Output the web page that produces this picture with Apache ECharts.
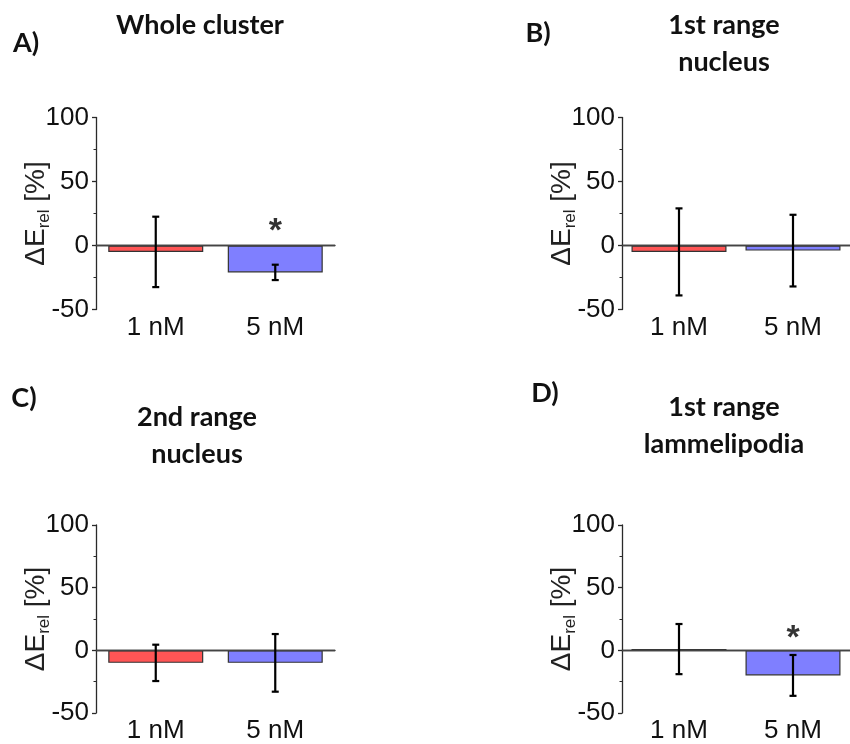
<!DOCTYPE html>
<html>
<head>
<meta charset="utf-8">
<script src="https://cdn.jsdelivr.net/npm/echarts@6/dist/echarts.min.js"></script>
<style>
  html, body { margin: 0; padding: 0; background: #fff; }
  #chart { width: 850px; height: 744px; }
</style>
</head>
<body>
<div id="chart"></div>
<script>
// Concentrations on the x axis
const categories = ['1 nM', '5 nM'];
const yTicks = [-50, 0, 50, 100];

// Panel A: whole cluster
const meanA = [-5, -21];
const errA = [27.5, 6];
const starA = ['-', 16];
// Panel B: 1st range nucleus
const meanB = [-5, -4];
const errB = [34, 28];
const starB = ['-', '-'];
// Panel C: 2nd range nucleus
const meanC = [-10, -10];
const errC = [14.5, 23];
const starC = ['-', '-'];
// Panel D: 1st range lammelipodia
const meanD = [1, -20];
const errD = [20, 16.3];
const starD = ['-', 15];

const panels = [
  { letter: 'A)', title: 'Whole cluster', mean: meanA, err: errA, star: starA },
  { letter: 'B)', title: '1st range\nnucleus', mean: meanB, err: errB, star: starB },
  { letter: 'C)', title: '2nd range\nnucleus', mean: meanC, err: errC, star: starC },
  { letter: 'D)', title: '1st range\nlammelipodia', mean: meanD, err: errD, star: starD }
];

const barColors = ['#ff5555', '#7f7fff'];
const axisColor = '#2a2a2a';
const tickFont = 'Liberation Sans, Arial, sans-serif';
const titleFont = 'Lato, Open Sans, sans-serif';

// Plot boxes for the four panels
const grids = [
  { left: 96, top: 117.5, width: 239, height: 192 },
  { left: 622, top: 117.5, width: 239, height: 192 },
  { left: 96, top: 525, width: 239, height: 192.5 },
  { left: 622, top: 525, width: 239, height: 192.5 }
];

const xAxes = [], yAxes = [], series = [];
panels.forEach((p, i) => {
  xAxes.push({
    type: 'category', gridIndex: i, data: categories,
    axisLine: { lineStyle: { color: axisColor, width: 1.3 } },
    axisTick: { alignWithLabel: true, length: 4, lineStyle: { color: axisColor, width: 1.3 } },
    axisLabel: { color: '#111', fontFamily: tickFont, fontSize: 26, margin: 5 }
  });
  yAxes.push({
    type: 'value', gridIndex: i, min: yTicks[0], max: yTicks[yTicks.length - 1], interval: 50,
    axisLine: { show: true, lineStyle: { color: axisColor, width: 1.3 } },
    axisTick: { show: true, length: 4, lineStyle: { color: axisColor, width: 1.3 } },
    minorTick: { show: true, splitNumber: 2, length: 2.5, lineStyle: { color: axisColor, width: 1 } },
    splitLine: { show: false },
    axisLabel: { color: '#111', fontFamily: tickFont, fontSize: 26, margin: 7 },
    name: '{d|ΔE}{s|rel}{d| [%]}',
    nameLocation: 'middle',
    nameGap: 43,
    nameMoveOverlap: false,
    nameTextStyle: {
      rich: {
        d: { fontFamily: tickFont, fontSize: 28, color: '#222', lineHeight: 34, verticalAlign: 'middle' },
        s: { fontFamily: tickFont, fontSize: 17, color: '#222', lineHeight: 34, verticalAlign: 'bottom', padding: [16, 0, 0, 0] }
      }
    }
  });
  series.push({
    type: 'bar', xAxisIndex: i, yAxisIndex: i, barWidth: 95,
    data: p.mean.map((v, k) => ({ value: v, itemStyle: { color: barColors[k] } })),
    itemStyle: { borderColor: '#333', borderWidth: 1.2 },
    silent: true,
    markLine: {
      silent: true, symbol: 'none', label: { show: false },
      lineStyle: { color: '#444', width: 1.3, type: 'solid' },
      data: [{ yAxis: 0 }]
    },
    z: 2
  });
  series.push({
    type: 'custom', xAxisIndex: i, yAxisIndex: i,
    data: p.mean.map((v, k) => [k, v, p.err[k]]),
    renderItem: (params, api) => {
      const idx = api.value(0), m = api.value(1), e = api.value(2);
      const top = api.coord([idx, m + e]);
      const bot = api.coord([idx, m - e]);
      const cap = 3.5;
      const style = { stroke: '#000', lineWidth: 2.2 };
      return {
        type: 'group',
        children: [
          { type: 'line', shape: { x1: top[0], y1: top[1], x2: bot[0], y2: bot[1] }, style },
          { type: 'line', shape: { x1: top[0] - cap, y1: top[1], x2: top[0] + cap, y2: top[1] }, style },
          { type: 'line', shape: { x1: bot[0] - cap, y1: bot[1], x2: bot[0] + cap, y2: bot[1] }, style }
        ]
      };
    },
    z: 5
  });
  series.push({
    type: 'scatter', xAxisIndex: i, yAxisIndex: i,
    data: p.star, symbolSize: 0, silent: true,
    label: {
      show: true, position: 'inside', formatter: '*',
      fontFamily: tickFont, fontSize: 34, fontWeight: 'bold', color: '#000', offset: [0, 7]
    },
    z: 6
  });
});

// Panel letters and titles
const textItems = [
  { text: 'A)', x: 26, y: 43 },
  { text: 'Whole cluster', x: 200, y: 25 },
  { text: 'B)', x: 538, y: 33 },
  { text: '1st range\nnucleus', x: 724, y: 43.5 },
  { text: 'C)', x: 24, y: 398 },
  { text: '2nd range\nnucleus', x: 197, y: 436 },
  { text: 'D)', x: 545, y: 393 },
  { text: '1st range\nlammelipodia', x: 724, y: 425.5 }
];
const graphic = textItems.map(t => ({
  type: 'text', x: t.x, y: t.y, silent: true,
  style: {
    text: t.text, fill: '#111', align: 'center', verticalAlign: 'middle',
    font: 'bold 27px ' + titleFont, lineHeight: 37
  }
}));

const chart = echarts.init(document.getElementById('chart'), null, { renderer: 'canvas' });
chart.setOption({
  animation: false,
  backgroundColor: '#fff',
  grid: grids,
  xAxis: xAxes,
  yAxis: yAxes,
  series: series,
  graphic: graphic
});
</script>
</body>
</html>
